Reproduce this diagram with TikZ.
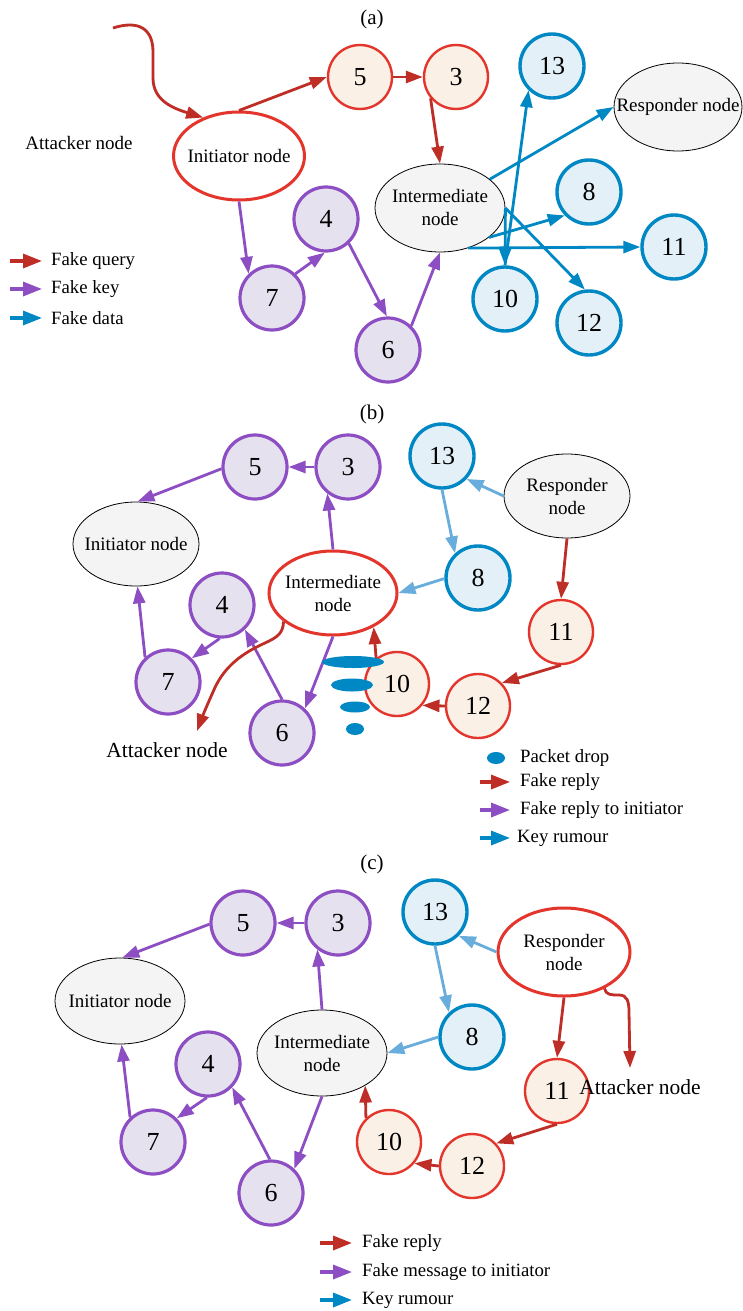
\documentclass[tikz,border=0pt]{standalone}
\usepackage{fontspec}
\setmainfont{Liberation Serif}
\usetikzlibrary{shapes.geometric,arrows.meta}
\definecolor{arrred}{HTML}{BE2D26}
\definecolor{cirred}{HTML}{E3352B}
\definecolor{beige}{HTML}{FAF0E6}
\definecolor{purp}{HTML}{8E4EC3}
\definecolor{purpfill}{HTML}{E5E1EE}
\definecolor{blu}{HTML}{0088C4}
\definecolor{blufill}{HTML}{E3F0F8}
\definecolor{lblu}{HTML}{68ADDB}
\definecolor{grayfill}{HTML}{F4F4F4}
\begin{document}
\begin{tikzpicture}[x=1pt,y=-1pt,
  num/.style={circle,minimum size=64pt,inner sep=0pt,font=\fontsize{26}{26}\selectfont},
  rcirc/.style={num,draw=cirred,line width=2.4pt,fill=beige},
  pcirc/.style={num,draw=purp,line width=3.2pt,fill=purpfill},
  bcirc/.style={num,draw=blu,line width=3.4pt,fill=blufill},
  gell/.style={ellipse,draw=black,line width=0.8pt,fill=grayfill,inner sep=0pt},
  rell/.style={ellipse,draw=cirred,line width=3pt,fill=white,inner sep=0pt},
  txt/.style={font=\fontsize{19}{23}\selectfont,align=center,inner sep=0pt},
  bigtxt/.style={font=\fontsize{21.5}{24}\selectfont,inner sep=0pt},
  legtxt/.style={font=\fontsize{18.75}{22}\selectfont,anchor=west,inner sep=0pt},
  ttl/.style={font=\fontsize{21}{21}\selectfont,inner sep=0pt},
  arr/.style={line width=2.8pt,-{Triangle[length=17pt,width=12pt]}},
  rarr/.style={arr,draw=arrred},
  parr/.style={arr,draw=purp},
  barr/.style={arr,draw=blu},
  larr/.style={arr,draw=lblu},
  legarr/.style={line width=3.3pt,-{Triangle[length=19pt,width=14pt]}},
  drop/.style={ellipse,fill=blu,inner sep=0pt}
]
\fill[white] (0,0) rectangle (743,1311);
\useasboundingbox (0,0) rectangle (743,1311);

% ================= (a) =================
\node[ttl] (ta) at (372,19) {(a)};
\node[rell,minimum width=131pt,minimum height=88pt] (ia) at (239,156) {};
\node[txt] (iat) at (ia) {Initiator node};
\node[txt] (atkat) at (79,143) {Attacker node};
\node[rcirc] (n5a) at (360,77) {5};
\node[rcirc] (n3a) at (456,77) {3};
\node[gell,minimum width=130pt,minimum height=88pt] (ima) at (440,208) {};
\node[txt] (imat) at (ima) {Intermediate\\node};
\node[bcirc] (n13a) at (552,66) {13};
\node[gell,minimum width=128pt,minimum height=88pt] (rsa) at (678,107) {};
\node[txt] (rsat) at (rsa) {Responder node};
\node[bcirc] (n8a) at (589,192) {8};
\node[bcirc] (n11a) at (674,247) {11};
\node[bcirc] (n10a) at (505,299) {10};
\node[bcirc] (n12a) at (589,323) {12};
\node[pcirc] (n7a) at (272,298) {7};
\node[pcirc] (n4a) at (326,219) {4};
\node[pcirc] (n6a) at (388,350) {6};

\coordinate (atka) at (113,28);
\draw[rarr] (atka) .. controls (138,20) and (153,28) .. (153,52) -- (153,78)
  .. controls (153,100) and (172,108) .. (ia.133);
\draw[rarr] (ia.north) -- (n5a.west);
\draw[rarr] (n5a.east) -- (n3a.west);
\draw[rarr] (n3a.220) -- (ima.north);

\draw[barr] (ima.east) -- (n10a.north);
\draw[barr] (n10a.north) -- (n13a.226);
\draw[barr] (ima.30) -- (rsa.west);
\draw[barr] (ima.-31) -- (n8a.224);
\draw[barr] (ima.-55) -- (n11a.west);
\draw[barr] (ima.east) -- (n12a.97);

\draw[parr] (ia.south) -- (n7a.134);
\draw[parr] (n7a.46) -- (n4a.268);
\draw[parr] (n4a.313) -- (n6a.92);
\draw[parr] (n6a.46) -- (ima.south);

\coordinate (lqa) at (10,261); \coordinate (lqb) at (42,261);
\coordinate (lka) at (10,289); \coordinate (lkb) at (42,289);
\coordinate (lda) at (10,318); \coordinate (ldb) at (42,318);
\draw[legarr,draw=arrred] (lqa) -- (lqb);
\draw[legarr,draw=purp] (lka) -- (lkb);
\draw[legarr,draw=blu] (lda) -- (ldb);
\node[legtxt] (lqt) at (51,261) {Fake query};
\node[legtxt] (lkt) at (51,289) {Fake key};
\node[legtxt] (ldt) at (51,318) {Fake data};

% ================= (b) =================
\node[ttl] (tb) at (372,414) {(b)};
\node[pcirc] (n5b) at (255,467) {5};
\node[pcirc] (n3b) at (348,467) {3};
\node[gell,minimum width=126pt,minimum height=84pt] (ib) at (136,544) {};
\node[txt] (ibt) at (ib) {Initiator node};
\node[rell,minimum width=128pt,minimum height=84pt] (imb) at (333,593) {};
\node[txt] (imbt) at (imb) {Intermediate\\node};
\node[pcirc] (n4b) at (222,605) {4};
\node[pcirc] (n7b) at (168,682) {7};
\node[pcirc] (n6b) at (282,733) {6};
\node[bcirc] (n13b) at (442,456) {13};
\node[gell,minimum width=126pt,minimum height=84pt] (rb) at (567,496) {};
\node[txt] (rbt) at (rb) {Responder\\node};
\node[bcirc] (n8b) at (478,578) {8};
\node[rcirc] (n11b) at (561,632) {11};
\node[rcirc] (n12b) at (478,706) {12};
\node[rcirc] (n10b) at (397,684) {10};
\node[bigtxt] (atkbt) at (167,750) {Attacker node};

\draw[parr] (n3b.west) -- (n5b.east);
\draw[parr] (n5b.183) -- (ib.88);
\draw[parr] (imb.north) -- (n3b.232);
\draw[parr] (n7b.133) -- (ib.-88);
\draw[parr] (n4b.266) -- (n7b.45);
\draw[parr] (n6b.north) -- (n4b.313);
\draw[parr] (imb.south) -- (n6b.47);
\draw[rarr] (n10b.129) -- (imb.-40);
\draw[larr] (rb.west) -- (n13b.317);
\draw[larr] (n13b.south) -- (n8b.133);
\draw[larr] (n8b.181) -- (imb.east);
\draw[rarr] (rb.south) -- (n11b.north);
\draw[rarr] (n11b.south) -- (n12b.44);
\draw[rarr] (n12b.west) -- (n10b.320);
\coordinate (atkb) at (197,731);
\draw[rarr] (imb.210) .. controls (283,633) and (278,637) .. (265,643)
  .. controls (238,655) and (222,670) .. (213,692)
  .. controls (208,703) and (203,715) .. (atkb);

\node[drop,minimum width=62pt,minimum height=12pt] (d1) at (353,662) {};
\node[drop,minimum width=42pt,minimum height=13pt] (d2) at (352,685) {};
\node[drop,minimum width=30pt,minimum height=11pt] (d3) at (355,707) {};
\node[drop,minimum width=18pt,minimum height=12pt] (d4) at (355,729) {};

\node[drop,minimum width=18pt,minimum height=12pt] (ldrop) at (496,758) {};
\coordinate (lrba) at (480,782); \coordinate (lrbb) at (510,782);
\coordinate (lpba) at (480,810); \coordinate (lpbb) at (510,810);
\coordinate (lbba) at (480,838); \coordinate (lbbb) at (510,838);
\draw[legarr,draw=arrred] (lrba) -- (lrbb);
\draw[legarr,draw=purp] (lpba) -- (lpbb);
\draw[legarr,draw=blu] (lbba) -- (lbbb);
\node[legtxt] (ldropt) at (520,758) {Packet drop};
\node[legtxt] (lrbt) at (520,782) {Fake reply};
\node[legtxt] (lpbt) at (520,810) {Fake reply to initiator};
\node[legtxt] (lbbt) at (517,838) {Key rumour};

% ================= (c) =================
\node[ttl] (tc) at (372,864) {(c)};
\node[pcirc] (n5c) at (243,923) {5};
\node[pcirc] (n3c) at (338,923) {3};
\node[gell,minimum width=130pt,minimum height=86pt] (ic) at (120,1001) {};
\node[txt] (ict) at (ic) {Initiator node};
\node[gell,minimum width=130pt,minimum height=86pt] (imc) at (322,1053) {};
\node[txt] (imct) at (imc) {Intermediate\\node};
\node[pcirc] (n4c) at (208,1064) {4};
\node[pcirc] (n7c) at (153,1142) {7};
\node[pcirc] (n6c) at (271,1193) {6};
\node[bcirc] (n13c) at (435,912) {13};
\node[rell,minimum width=132pt,minimum height=88pt] (rc) at (564,952) {};
\node[txt] (rct) at (rc) {Responder\\node};
\node[bcirc] (n8c) at (472,1037) {8};
\node[rcirc] (n11c) at (557,1091) {11};
\node[rcirc] (n12c) at (472,1166) {12};
\node[rcirc] (n10c) at (389,1142) {10};

\draw[parr] (n3c.west) -- (n5c.east);
\draw[parr] (n5c.182) -- (ic.87);
\draw[parr] (imc.north) -- (n3c.232);
\draw[parr] (n7c.133) -- (ic.-88);
\draw[parr] (n4c.268) -- (n7c.45);
\draw[parr] (n6c.92) -- (n4c.316);
\draw[parr] (imc.south) -- (n6c.46);
\draw[larr] (rc.west) -- (n13c.315);
\draw[larr] (n13c.south) -- (n8c.133);
\draw[larr] (n8c.west) -- (imc.east);
\draw[rarr] (rc.south) -- (n11c.north);
\draw[rarr] (n11c.south) -- (n12c.43);
\draw[rarr] (n12c.west) -- (n10c.320);
\draw[rarr] (n10c.134) -- (imc.-37.5);
\coordinate (atkc) at (630,1068);
\draw[rarr] (rc.-42) .. controls (606,995) and (611,995) .. (619,995)
  .. controls (627,995) and (629,1001) .. (629,1012) -- (atkc);
\node[bigtxt] (atkct) at (640,1087) {Attacker node};

\coordinate (lrca) at (320,1243); \coordinate (lrcb) at (352,1243);
\coordinate (lpca) at (320,1272); \coordinate (lpcb) at (352,1272);
\coordinate (lbca) at (320,1300); \coordinate (lbcb) at (352,1300);
\draw[legarr,draw=arrred] (lrca) -- (lrcb);
\draw[legarr,draw=purp] (lpca) -- (lpcb);
\draw[legarr,draw=blu] (lbca) -- (lbcb);
\node[legtxt] (lrct) at (362,1243) {Fake reply};
\node[legtxt] (lpct) at (362,1272) {Fake message to initiator};
\node[legtxt] (lbct) at (362,1300) {Key rumour};
\end{tikzpicture}
\end{document}
